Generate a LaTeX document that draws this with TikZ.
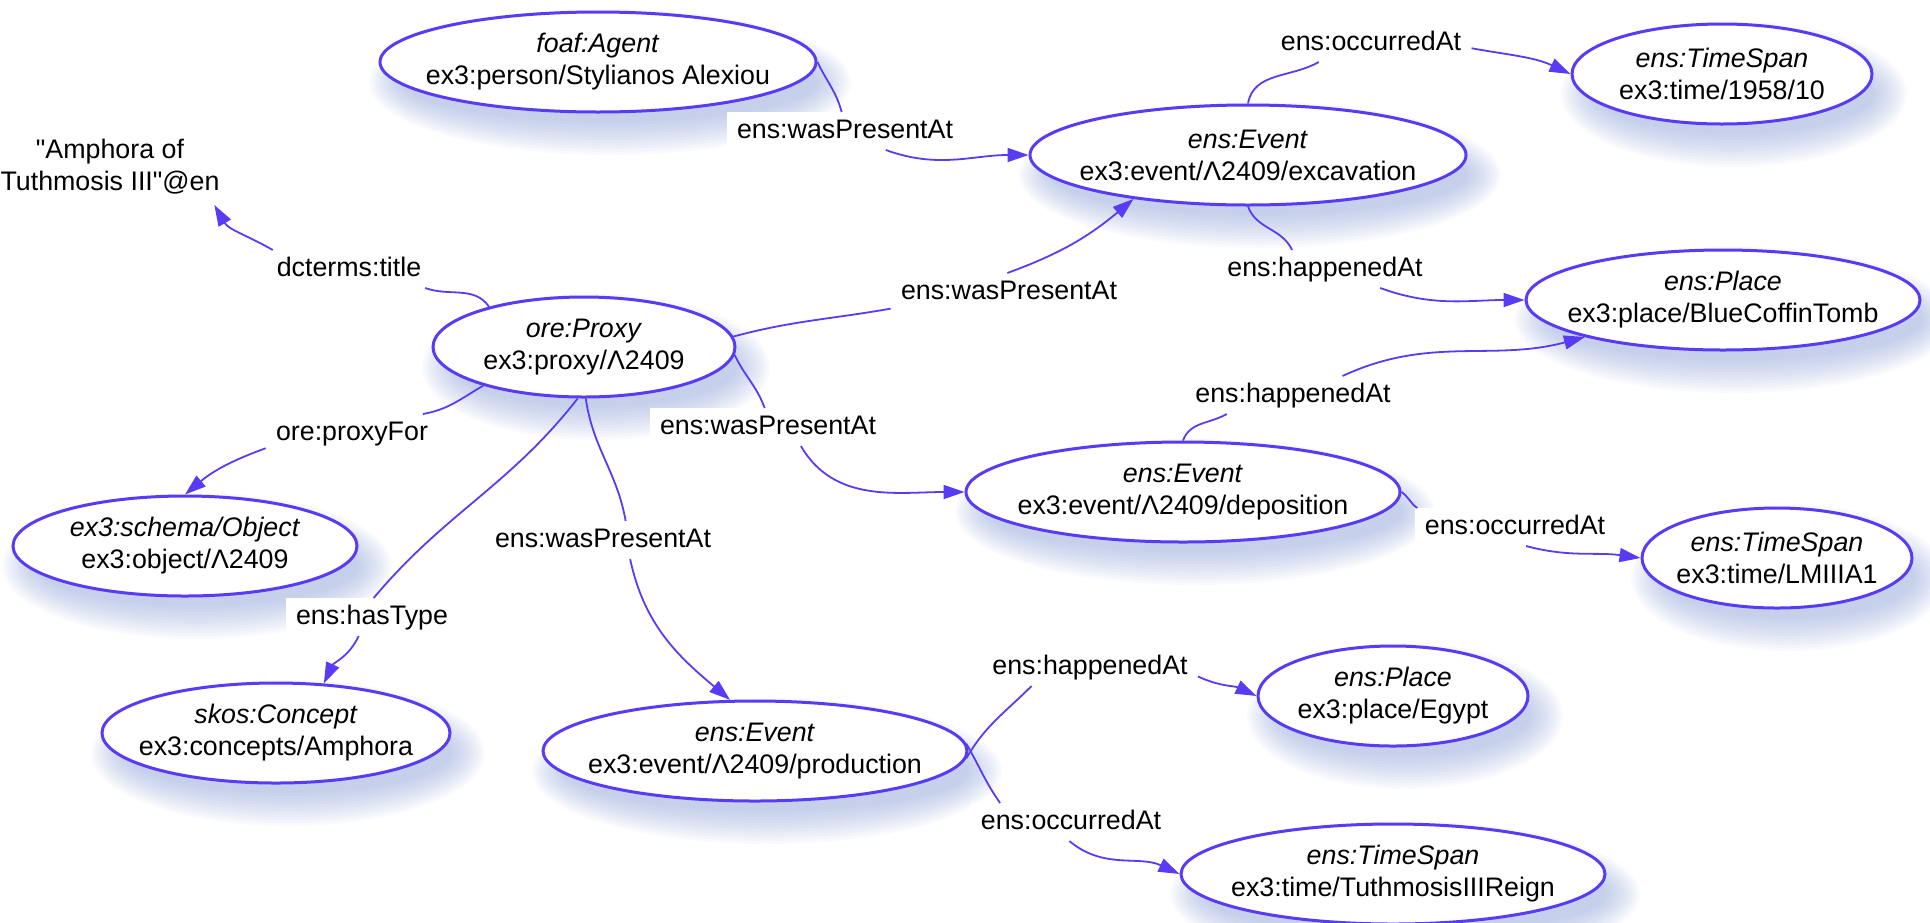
\documentclass[tikz,border=0pt]{standalone}
\usepackage{fontspec}
\setmainfont{Liberation Sans}
\usetikzlibrary{shapes.geometric,arrows.meta}

\definecolor{rdfblue}{RGB}{88,60,245}
\definecolor{shadowblue}{RGB}{140,160,215}

\tikzset{
  rdfnode/.style={ellipse, draw=rdfblue, line width=1.5pt, fill=white,
    inner sep=0pt, minimum height=50pt},
  rdftext/.style={align=center, inner sep=5pt},
  lbl/.style={fill=white, inner xsep=5pt, inner ysep=3pt, text height=9.8pt, text depth=2.8pt},
  rel/.style={draw=rdfblue, line width=0.9pt},
  relarrow/.style={rel, -{Triangle[length=10.5pt,width=7pt]}},
  haze/.style={fill=shadowblue, opacity=0.055},
}

% #1 name, #2 x, #3 y, #4 half-width in px, #5 class, #6 resource
\newcommand\rdfres[6]{%
  \foreach \d in {-10,-7,...,23}
    \fill[haze] (#2+12,#3-20) ellipse [x radius=#4+\d, y radius=50+\d];
  \node[rdfnode, minimum width=#4pt] (#1) at (#2,#3) {};
  \node[rdftext] at (#1) {\textit{#5}\\#6};
}

\begin{document}
\begin{tikzpicture}[x=0.5pt, y=0.5pt, font=\fontsize{13.4pt}{16pt}\selectfont]
\useasboundingbox (0,0) rectangle (1930,-922);

% resources
\rdfres{agent}{598}{-62}{218}{foaf:Agent}{ex3:person/Stylianos Alexiou}
\rdfres{exc}{1248}{-155}{218}{ens:Event}{ex3:event/Λ2409/excavation}
\rdfres{ts1958}{1722}{-74}{150}{ens:TimeSpan}{ex3:time/1958/10}
\rdfres{tomb}{1723}{-300}{197}{ens:Place}{ex3:place/BlueCoffinTomb}
\rdfres{proxy}{584}{-347}{151}{ore:Proxy}{ex3:proxy/Λ2409}
\rdfres{dep}{1183}{-492}{217}{ens:Event}{ex3:event/Λ2409/deposition}
\rdfres{lm}{1777}{-558}{135}{ens:TimeSpan}{ex3:time/LMIIIA1}
\rdfres{object}{185}{-546}{172}{ex3:schema/Object}{ex3:object/Λ2409}
\rdfres{concept}{276}{-733}{174}{skos:Concept}{ex3:concepts/Amphora}
\rdfres{prod}{755}{-751}{212}{ens:Event}{ex3:event/Λ2409/production}
\rdfres{egypt}{1393}{-696}{135}{ens:Place}{ex3:place/Egypt}
\rdfres{tuth}{1393}{-874}{212}{ens:TimeSpan}{ex3:time/TuthmosisIIIReign}

% literal
\node[rdftext] (title) at (110,-167) {\textquotedbl Amphora of\\Tuthmosis III\textquotedbl @en};

% property labels
\node[lbl] (Ltitle)     at (349,-269)  {dcterms:title};
\node[lbl] (Lagent)     at (845,-131)  {ens:wasPresentAt};
\node[lbl] (Lexcts)     at (1371,-43)  {ens:occurredAt};
\node[lbl] (Lproxyexc)  at (1009,-292) {ens:wasPresentAt};
\node[lbl] (Lexctomb)   at (1325,-269) {ens:happenedAt};
\node[lbl] (Ldeptomb)   at (1293,-395) {ens:happenedAt};
\node[lbl] (Lproxydep)  at (768,-427)  {ens:wasPresentAt};
\node[lbl] (Lproxyobj)  at (352,-433)  {ore:proxyFor};
\node[lbl] (LhasType)   at (372,-617)  {ens:hasType};
\node[lbl] (Lproxyprod) at (603,-540)  {ens:wasPresentAt};
\node[lbl] (Ldeplm)     at (1515,-527) {ens:occurredAt};
\node[lbl] (Lprodegypt) at (1090,-667) {ens:happenedAt};
\node[lbl] (Lprodtuth)  at (1071,-822) {ens:occurredAt};

% properties: subject -> label -> object
\draw[rel]      (proxy.157) to[out=125,in=-20] (Ltitle.-14);
\draw[relarrow] (Ltitle.166) to[out=150,in=-60] (title.-20);

\draw[rel]      (agent.east) to[out=-65,in=105] (Lagent.100);
\draw[relarrow] (Lagent.-25) to[out=-20,in=180] (exc.west);

\draw[rel]      (exc.north) to[out=80,in=-150] (Lexcts.-160);
\draw[relarrow] (Lexcts.-3) to[out=-10,in=155] (ts1958.west);

\draw[rel]      (exc.south) to[out=-70,in=115] (Lexctomb.150);
\draw[relarrow] (Lexctomb.-19) to[out=-20,in=180] (tomb.west);

\draw[rel]      (proxy.4) to[out=15,in=-170] (Lproxyexc.-172);
\draw[relarrow] (Lproxyexc.95) to[out=20,in=-140] (exc.-159);

\draw[rel]      (proxy.-3) to[out=-65,in=110] (Lproxydep.100);
\draw[relarrow] (Lproxydep.-30) to[out=-60,in=180] (dep.west);

\draw[rel]      (proxy.-159) to[out=-150,in=10] (Lproxyobj.15);
\draw[relarrow] (Lproxyobj.-170) to[out=-160,in=40] (object.north);

\draw[rel]      (proxy.-97) to[out=-128,in=50] (LhasType.85);
\draw[relarrow] (LhasType.-125) to[out=-115,in=65] (concept.46);

\draw[rel]      (proxy.-88) to[out=-82,in=100] (Lproxyprod.40);
\draw[relarrow] (Lproxyprod.-35) to[out=-78,in=140] (prod.116);

\draw[rel]      (dep.north) to[out=70,in=-150] (Ldeptomb.-164);
\draw[relarrow] (Ldeptomb.21) to[out=25,in=-165] (tomb.-165);

\draw[rel]      (dep.east) to[out=-35,in=145] (Ldeplm.169);
\draw[relarrow] (Ldeplm.-60) to[out=-15,in=172] (lm.west);

\draw[rel]      (prod.-2) to[out=60,in=-135] (Lprodegypt.-162);
\draw[relarrow] (Lprodegypt.-5) to[out=-25,in=155] (egypt.west);

\draw[rel]      (prod.2) to[out=-60,in=125] (Lprodtuth.165);
\draw[relarrow] (Lprodtuth.-95) to[out=-40,in=155] (tuth.west);
\end{tikzpicture}
\end{document}
